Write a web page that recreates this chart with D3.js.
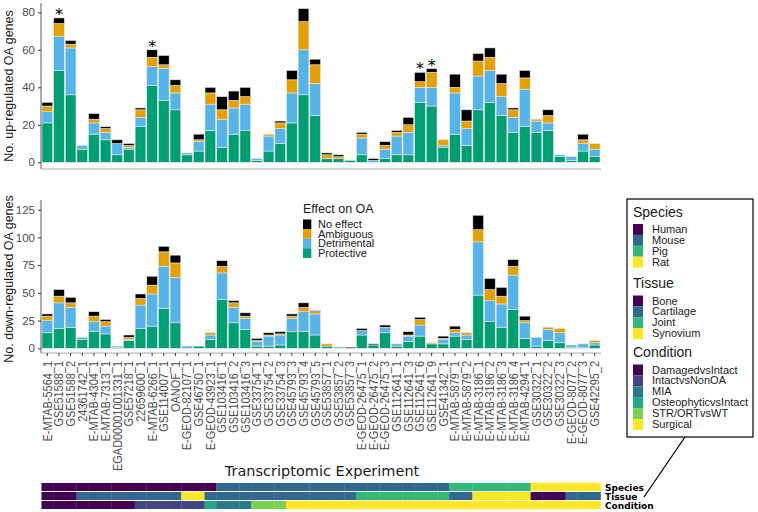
<!DOCTYPE html>
<html>
<head>
<meta charset="utf-8">
<script src="https://cdn.jsdelivr.net/npm/d3@7"></script>
<style>
  html, body { margin: 0; padding: 0; background: #fff; }
  svg { display: block; }
</style>
</head>
<body>
<svg id="chart" width="758" height="512"></svg>
<script>
const categories = ["E-MTAB-5564_1","GSE51588_1","GSE51588_2","24361742_1","E-MTAB-4304_1","E-MTAB-7313_1","EGAD00001001331_1","GSE57218_1","22659600_1","E-MTAB-6266_1","GSE114007_1","OANOF_1","E-GEOD-82107_1","GSE46750_1","E-GEOD-43923_1","GSE103416_1","GSE103416_2","GSE103416_3","GSE33754_1","GSE33754_2","GSE33754_3","GSE45793_3","GSE45793_4","GSE45793_5","GSE53857_1","GSE53857_2","GSE53857_3","E-GEOD-26475_1","E-GEOD-26475_2","E-GEOD-26475_3","GSE112641_1","GSE112641_3","GSE112641_6","GSE112641_9","GSE41342_1","E-MTAB-5879_1","E-MTAB-5879_2","E-MTAB-3186_1","E-MTAB-3186_2","E-MTAB-3186_3","E-MTAB-3186_4","E-MTAB-4294_1","GSE30322_1","GSE30322_2","GSE30322_3","E-GEOD-8077_2","E-GEOD-8077_3","GSE42295_2"];

const effectKeys = ["Protective","Detrimental","Ambiguous","No effect"];
const effectColors = ["#009E73","#56B4E9","#E69F00","#000000"];

// up-regulated
const upProtective  = [21,49,36,7,15,12,4,7,19,41,33,28,4,6,17,8,15,17,1,6,10,21,36,25,2,2,1,4,0,2,4,4,32,30,8,15,9,28,32,25,16,19,16,17,3,1,6,3];
const upDetrimental = [6,18,25,2,6,4,6,1,5,10,17,9,1,5,14,15,14,14,1,8,8,16,24,17,0,0,0,9,1,5,10,12,8,10,1,22,9,18,17,10,8,20,6,4,1,2,4,4];
const upAmbiguous   = [3,7,2,0,2,2,0,1,4,5,2,4,0,1,6,5,4,4,0,1,3,7,15,10,2,1,0,2,0,2,2,4,3,8,3,3,4,8,7,7,4,6,1,4,0,0,2,3];
const upNoEffect    = [2,3,2,0,3,1,2,1,1,4,5,3,0,3,3,7,5,5,0,0,1,5,7,3,1,1,0,1,1,2,1,4,5,2,0,7,6,4,5,5,1,4,0,3,0,0,3,0];

// down-regulated
const downProtective  = [14,18,19,8,15,13,1,7,18,20,36,23,0,2,8,44,23,17,2,2,3,15,15,12,2,1,0,12,3,14,2,6,11,4,4,11,8,48,24,19,35,9,2,7,5,1,1,3];
const downDetrimental = [11,23,18,2,9,7,1,1,21,29,38,41,2,0,4,24,14,10,4,9,9,12,18,19,0,0,0,4,0,5,2,5,10,0,4,3,4,48,19,21,31,14,8,10,9,2,3,2];
const downAmbiguous   = [4,6,4,0,5,4,0,2,6,8,13,13,0,0,2,6,4,2,1,1,1,2,4,2,2,0,0,0,0,0,0,1,5,1,1,3,2,11,10,7,8,2,0,2,4,0,0,2];
const downNoEffect    = [2,6,5,0,4,2,0,2,4,8,5,7,0,0,0,5,2,3,2,2,2,2,4,1,0,0,1,2,1,2,0,3,2,0,2,3,0,13,10,8,6,4,0,0,0,0,0,0];

const starred = ["GSE51588_1","E-MTAB-6266_1","GSE112641_6","GSE112641_9"];

const upTicks = [0,20,40,60,80];
const downTicks = [0,25,50,75,100,125];

const speciesLevels = ["Human","Mouse","Pig","Rat"];
const tissueLevels = ["Bone","Cartilage","Joint","Synovium"];
const conditionLevels = ["DamagedvsIntact","IntactvsNonOA","MIA","OsteophyticvsIntact","STR/ORTvsWT","Surgical"];
const viridis4 = ["#440154","#31688E","#35B779","#FDE725"];
const viridis6 = ["#440154","#414487","#2A788E","#22A884","#7AD151","#FDE725"];

const species = ["Human","Human","Human","Human","Human","Human","Human","Human","Human","Human","Human","Human","Human","Human","Human",
  "Mouse","Mouse","Mouse","Mouse","Mouse","Mouse","Mouse","Mouse","Mouse","Mouse","Mouse","Mouse","Mouse","Mouse","Mouse","Mouse","Mouse","Mouse","Mouse","Mouse",
  "Pig","Pig","Pig","Pig","Pig","Pig","Pig",
  "Rat","Rat","Rat","Rat","Rat","Rat"];
const tissue = ["Bone","Bone","Bone",
  "Cartilage","Cartilage","Cartilage","Cartilage","Cartilage","Cartilage","Cartilage","Cartilage","Cartilage",
  "Synovium","Synovium",
  "Cartilage","Cartilage","Cartilage","Cartilage","Cartilage","Cartilage","Cartilage","Cartilage","Cartilage","Cartilage","Cartilage","Cartilage","Cartilage",
  "Joint","Joint","Joint","Joint","Joint","Joint","Joint","Joint",
  "Cartilage","Cartilage",
  "Synovium","Synovium","Synovium","Synovium","Synovium",
  "Bone","Bone","Bone",
  "Cartilage","Cartilage","Cartilage"];
const condition = ["DamagedvsIntact","DamagedvsIntact","DamagedvsIntact","DamagedvsIntact","DamagedvsIntact","DamagedvsIntact","DamagedvsIntact","DamagedvsIntact",
  "IntactvsNonOA","IntactvsNonOA","IntactvsNonOA","IntactvsNonOA","IntactvsNonOA","IntactvsNonOA",
  "OsteophyticvsIntact",
  "MIA","MIA","MIA",
  "STR/ORTvsWT","STR/ORTvsWT","STR/ORTvsWT",
  "Surgical","Surgical","Surgical","Surgical","Surgical","Surgical","Surgical","Surgical","Surgical","Surgical","Surgical","Surgical","Surgical","Surgical","Surgical","Surgical","Surgical","Surgical","Surgical","Surgical","Surgical","Surgical","Surgical","Surgical","Surgical","Surgical","Surgical"];

const svg = d3.select("#chart");
const FONT = "'Liberation Sans', Arial, Helvetica, sans-serif";
const DJ = "'DejaVu Sans', sans-serif";

const x = d3.scaleBand().domain(categories).range([41.5, 600.5]).paddingInner(0.08).paddingOuter(0.04);
const yUp = d3.scaleLinear().domain([0, 80]).range([162.3, 12.3]);
const yDown = d3.scaleLinear().domain([0, 125]).range([348.3, 209.7]);
const effectColor = d3.scaleOrdinal().domain(effectKeys).range(effectColors);

function makeRows(p, d, a, n) {
  return categories.map((c, i) => ({cat: c, "Protective": p[i], "Detrimental": d[i], "Ambiguous": a[i], "No effect": n[i]}));
}
const upRows = makeRows(upProtective, upDetrimental, upAmbiguous, upNoEffect);
const downRows = makeRows(downProtective, downDetrimental, downAmbiguous, downNoEffect);
const stack = d3.stack().keys(effectKeys);

function drawPanel(rows, y, ticks, axisTop, axisBottom, label, labelY) {
  const g = svg.append("g");
  const series = stack(rows);
  g.selectAll("g.s").data(series).join("g").attr("fill", s => effectColor(s.key))
    .selectAll("rect").data(s => s.filter(d => d[1] - d[0] > 0)).join("rect")
    .attr("x", d => x(d.data.cat))
    .attr("width", x.bandwidth())
    .attr("y", d => y(d[1]))
    .attr("height", d => y(d[0]) - y(d[1]))
    .attr("stroke", "#e6e6e6").attr("stroke-width", 0.6);
  const ax = g.append("g").attr("transform", "translate(41,0)")
    .call(d3.axisLeft(y).tickValues(ticks).tickSize(3).tickPadding(3));
  ax.select(".domain").remove();
  ax.selectAll(".tick line").attr("stroke", "#333");
  ax.selectAll(".tick text").attr("fill", "#4d4d4d").style("font-family", FONT).style("font-size", "11.5px");
  g.append("line").attr("x1", 41).attr("x2", 41).attr("y1", axisTop).attr("y2", axisBottom)
    .attr("stroke", "#333").attr("stroke-width", 0.8);
  g.append("line").attr("x1", 41).attr("x2", 601).attr("y1", axisBottom).attr("y2", axisBottom)
    .attr("stroke", "#aaa").attr("stroke-width", 1);
  g.append("text")
    .attr("transform", `translate(13,${labelY}) rotate(-90)`)
    .attr("text-anchor", "middle")
    .style("font-family", FONT).style("font-size", "12.5px").attr("fill", "#1a1a1a")
    .text(label);
  return g;
}

const gUp = drawPanel(upRows, yUp, upTicks, 3, 169, "No. up-regulated OA genes", 86);
const gDown = drawPanel(downRows, yDown, downTicks, 200, 353, "No. down-regulated OA genes", 279);

gUp.selectAll("text.star").data(upRows.filter(r => starred.includes(r.cat))).join("text")
  .attr("class", "star")
  .attr("x", d => x(d.cat) + x.bandwidth()/2)
  .attr("y", d => yUp(d["Protective"] + d["Detrimental"] + d["Ambiguous"] + d["No effect"]) + 2)
  .attr("text-anchor", "middle")
  .style("font-family", DJ).style("font-size", "16px")
  .text("*");

// x axis labels (bottom panel), slightly condensed as in the reference
const xAx = svg.append("g").attr("transform", "translate(0,353)")
  .call(d3.axisBottom(x).tickSize(3).tickPadding(2));
xAx.select(".domain").remove();
xAx.selectAll(".tick line").attr("stroke", "#333");
const tickTexts = xAx.selectAll(".tick text")
  .attr("x", -8).attr("y", 0).attr("dy", "0.35em")
  .attr("text-anchor", "end")
  .attr("fill", "#4d4d4d")
  .style("font-family", FONT).style("font-size", "12.5px");
let ref = 0;
tickTexts.each(function(d) { if (d === "EGAD00001001331_1") ref = this.getComputedTextLength(); });
const sx = ref > 0 ? 110 / ref : 0.875;
tickTexts.attr("transform", `rotate(-90) scale(${sx},1)`).attr("x", -8 / sx);

svg.append("text").attr("x", 322).attr("y", 476).attr("text-anchor", "middle")
  .style("font-family", DJ).style("font-size", "14.5px").attr("fill", "#1a1a1a")
  .text("Transcriptomic Experiment");

// annotation rows
const annRows = [
  {name: "Species", vals: species, levels: speciesLevels, colors: viridis4, y: 483},
  {name: "Tissue", vals: tissue, levels: tissueLevels, colors: viridis4, y: 492},
  {name: "Condition", vals: condition, levels: conditionLevels, colors: viridis6, y: 501}
];
const step = x.step();
annRows.forEach(r => {
  const c = d3.scaleOrdinal().domain(r.levels).range(r.colors);
  svg.append("g").selectAll("rect").data(categories).join("rect")
    .attr("x", d => x(d) - step*0.04)
    .attr("width", step + 0.3)
    .attr("y", r.y).attr("height", 8)
    .attr("fill", (d, i) => c(r.vals[i]));
  svg.append("text").attr("x", 605).attr("y", r.y + 7.5)
    .style("font-family", DJ).style("font-size", "9px").style("font-weight", "bold")
    .text(r.name);
});

// effect legend
const eg = svg.append("g");
eg.append("text").attr("x", 303).attr("y", 212.5)
  .style("font-family", FONT).style("font-size", "12.5px").attr("fill", "#1a1a1a").text("Effect on OA");
const effLegend = ["No effect","Ambiguous","Detrimental","Protective"];
effLegend.forEach((k, i) => {
  eg.append("rect").attr("x", 303).attr("y", 219.5 + i*9.6).attr("width", 8.3).attr("height", 9.6).attr("fill", effectColor(k));
  eg.append("text").attr("x", 318).attr("y", 228 + i*9.6)
    .style("font-family", FONT).style("font-size", "11px").attr("fill", "#1a1a1a").text(k);
});

// annotation legend box
const lg = svg.append("g");
lg.append("line").attr("x1", 685).attr("y1", 437).attr("x2", 644).attr("y2", 497).attr("stroke", "#000").attr("stroke-width", 1.3);
lg.append("rect").attr("x", 627).attr("y", 199).attr("width", 126).attr("height", 238)
  .attr("fill", "#fff").attr("stroke", "#000").attr("stroke-width", 1.2);
const groups = [
  {title: "Species", levels: speciesLevels, colors: viridis4, ty: 216.5, ky: 224},
  {title: "Tissue", levels: tissueLevels, colors: viridis4, ty: 288, ky: 295.5},
  {title: "Condition", levels: conditionLevels, colors: viridis6, ty: 356.5, ky: 364.5}
];
groups.forEach(gr => {
  lg.append("text").attr("x", 633).attr("y", gr.ty)
    .style("font-family", FONT).style("font-size", "14px").attr("fill", "#1a1a1a").text(gr.title);
  gr.levels.forEach((lv, i) => {
    lg.append("rect").attr("x", 633).attr("y", gr.ky + i*10.9).attr("width", 10).attr("height", 10.9).attr("fill", gr.colors[i]);
    lg.append("text").attr("x", 652).attr("y", gr.ky + i*10.9 + 9)
      .style("font-family", FONT).style("font-size", "11px").attr("fill", "#1a1a1a").text(lv);
  });
});
</script>
</body>
</html>
